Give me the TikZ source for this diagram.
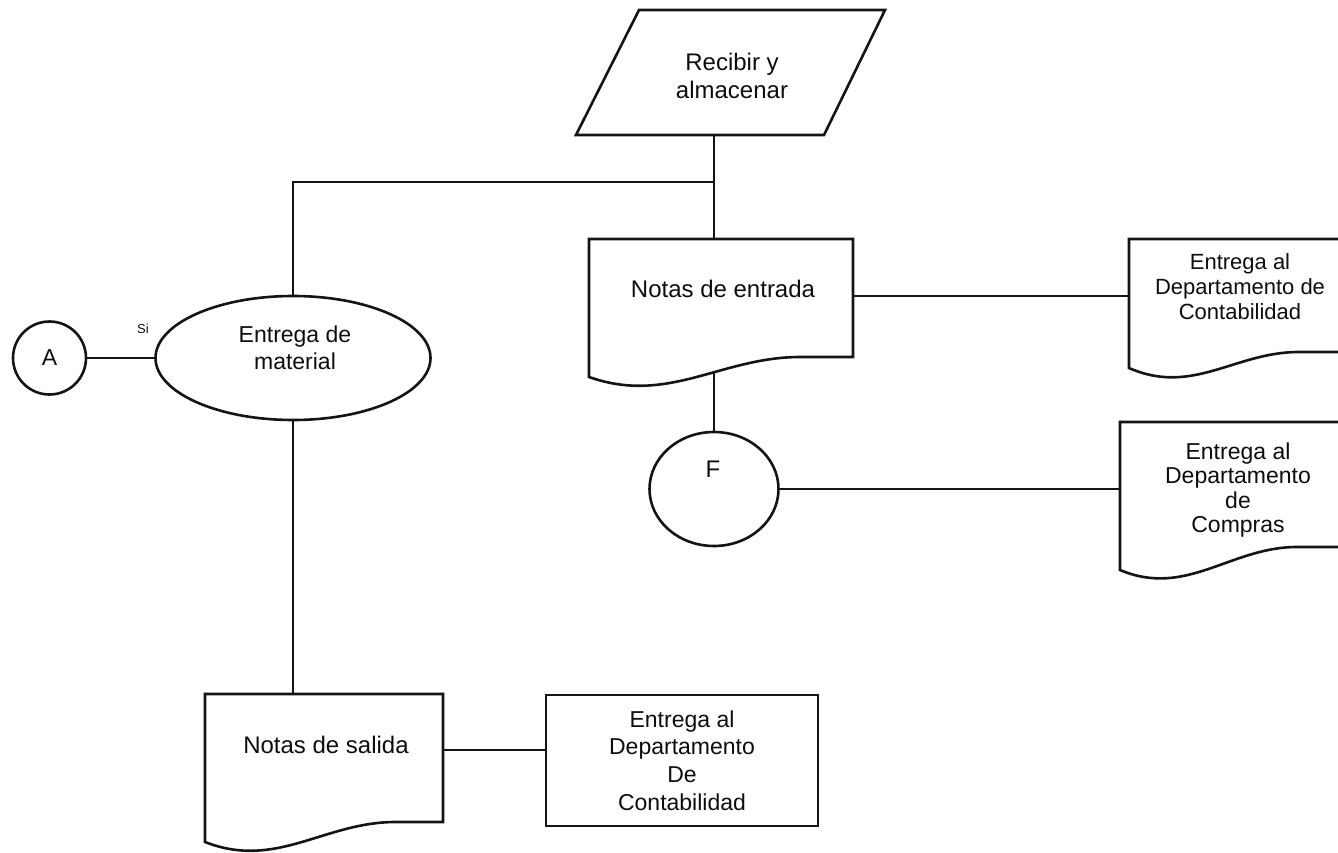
\documentclass[tikz,border=0pt]{standalone}
\usepackage{fontspec}
\setmainfont{Liberation Sans}
\usetikzlibrary{shapes.geometric}

% document symbol: name, left x, top y, right x, bottom-left y, bottom-right y
\newcommand\docshape[6]{%
  \draw[outline] (#4,#6) -- (#4,#3) -- (#2,#3) -- (#2,#5)
    .. controls ({#2+0.3*(#4-#2)},{#5+28}) and ({#2+0.5*(#4-#2)},#6) ..
    ({#2+0.8*(#4-#2)},#6) -- cycle;
  \node[frame, minimum width={(#4-#2)*1pt}, minimum height={(#5-#3)*1pt}]
    (#1) at ({(#2+#4)/2},{(#3+#5)/2}) {};
}

\begin{document}
\begin{tikzpicture}[x=1pt,y=-1pt,
  outline/.style={draw=black!92, line width=2.6pt},
  link/.style={draw=black!92, line width=2.6pt},
  frame/.style={draw=none, inner sep=0pt, rectangle},
  txt/.style={text=black!95, align=center, inner sep=0pt,
    font=\fontsize{23}{27}\selectfont},
  bigtxt/.style={txt, font=\fontsize{24}{28}\selectfont},
  smalltxt/.style={txt, font=\fontsize{22}{25}\selectfont},
  round/.style={outline, ellipse, inner sep=0pt}]
\useasboundingbox (0,0) rectangle (1338,853);

% input / output block
\draw[outline] (639,10) -- (885,10) -- (824,135) -- (576,135) -- cycle;
\node[bigtxt] (recibir) at (732,75.5) {Recibir y\\almacenar};
\coordinate (pb) at (714,135);
\coordinate (junc) at (714,182);

% documents
\docshape{ne}{589}{239}{853}{377}{357}
\node[bigtxt] (neText) at (723,289) {Notas de entrada};

\docshape{tr}{1129}{239}{1341}{368}{352}
\node[smalltxt] (trText) at (1240,287) {Entrega al\\Departamento de\\Contabilidad};

\docshape{cp}{1120}{422}{1341}{570}{547}
\node[txt, font=\fontsize{23}{24.3}\selectfont] (cpText) at (1238,490)
  {Entrega al\\Departamento\\de\\Compras};

\docshape{ns}{205}{694}{443}{842}{822}
\node[bigtxt] (nsText) at (326,744.5) {Notas de salida};

% process box
\node[outline, rectangle, inner sep=0pt, minimum width=272pt, minimum height=131pt,
  txt, font=\fontsize{23}{27.7}\selectfont] (cb) at (682,760.5)
  {Entrega al\\Departamento\\De\\Contabilidad};

% decision and connectors
\node[round, minimum width=275pt, minimum height=124pt] (mat) at (293,358) {};
\node[txt] (matText) at (295,348) {Entrega de\\material};
\node[round, circle, minimum size=73pt, txt, draw=black!92, line width=2.6pt] (A) at (49.5,358) {A};
\node[txt, font=\fontsize{13}{15}\selectfont] (si) at (143,329) {Si};

\node[round, minimum width=129pt, minimum height=114pt] (F) at (714,489) {};
\node[bigtxt] (Ftext) at (713,469) {F};

% connections
\draw[link] (pb) -- (pb |- ne.north);
\draw[link] (junc) -| (mat.north);
\draw[link] (A.east) -- (mat.west);
\draw[link] (mat.south) -- (mat.south |- ns.north);

\coordinate (neOut) at (853,296);
\draw[link] (neOut) -- (neOut -| tr.west);
\coordinate (neBot) at (714,372);
\draw[link] (neBot) -- (F.north);
\draw[link] (F.east) -- (F.east -| cp.west);

\coordinate (nsOut) at (443,750);
\draw[link] (nsOut) -- (nsOut -| cb.west);
\end{tikzpicture}
\end{document}
